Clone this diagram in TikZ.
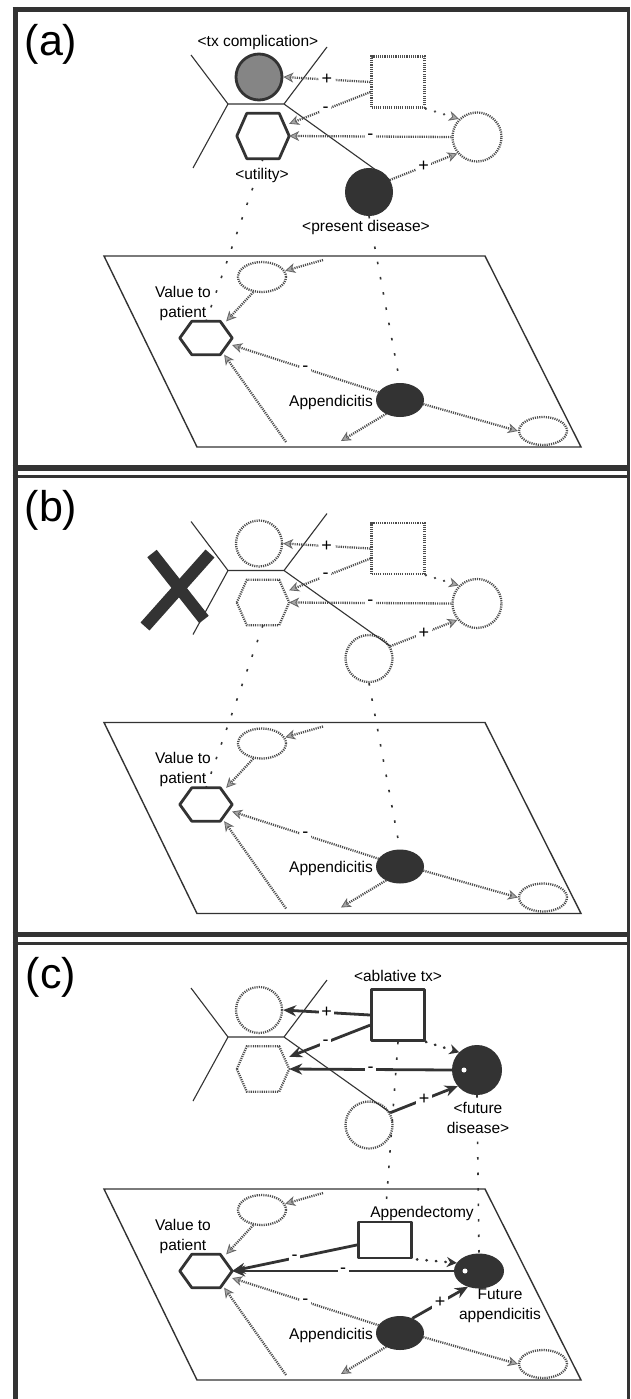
\documentclass[tikz,border=0pt]{standalone}
\usepackage{fontspec}
\setmainfont{Liberation Sans}
\usetikzlibrary{arrows.meta,shapes.geometric,calc}
\definecolor{ink}{gray}{0.2}
\definecolor{dotc}{gray}{0.3}
\tikzset{
  lbl/.style={font=\fontsize{15.5}{20}\selectfont, inner sep=1pt, align=center},
  wlbl/.style={lbl, fill=white},
  plabel/.style={font=\fontsize{43}{43}\selectfont, inner sep=0pt},
  panelframe/.style={draw=ink, line width=5pt},
  hourglass/.style={draw=ink, line width=1.1pt},
  grayline/.style={draw=dotc, line width=2.3pt, dash pattern=on 1.1pt off 1.1pt},
  thickline/.style={draw=ink, line width=2.8pt, line join=round},
  blackfill/.style={fill=ink, draw=ink, line width=1pt},
  hatchfill/.style={fill=black!48, draw=ink, line width=2.8pt},
  gtip/.style={},
  grayedge/.style={draw=dotc, line width=2.3pt, dash pattern=on 1.1pt off 1.1pt, -{Stealth[length=10pt,width=10pt,inset=3pt,color=black!60,fill=black!35,line width=0.8pt]}},
  blackedge/.style={draw=ink, line width=2.8pt, -{Stealth[length=13pt,width=11pt,color=ink,fill=ink]}},
  sparsegray/.style={draw=dotc, line width=2.2pt, dash pattern=on 0.5pt off 9pt, line cap=round, -{Stealth[length=10pt,width=10pt,inset=3pt,color=black!60,fill=black!35,line width=0.8pt]}},
  sparseblack/.style={draw=ink, line width=2.6pt, dash pattern=on 0.5pt off 9pt, line cap=round, -{Stealth[length=10pt,width=10pt,color=ink,fill=ink]}},
  mapline/.style={draw=ink, line width=1.6pt, dash pattern=on 2.5pt off 13pt},
  sign/.style={font=\fontsize{18}{18}\selectfont, fill=white, inner sep=2.5pt},
  planeline/.style={draw=ink, line width=1.4pt},
  crossbar/.style={draw=ink, line width=12pt},
}
% #1 node name, #2 style, #3 inset of top/bottom edges
\newcommand\hexdraw[3]{%
  \draw[#2] (#1.west) -- ([xshift=#3]#1.north west) -- ([xshift=-#3]#1.north east) -- (#1.east) -- ([xshift=-#3]#1.south east) -- ([xshift=#3]#1.south west) -- cycle;}
% #1 prefix, #2 comp, #3 hex, #4 square, #5 right circle, #6 lower circle
\newcommand\toppart[6]{%
  \coordinate (#1-tl) at (191,55);
  \coordinate (#1-lj) at (228,104);
  \coordinate (#1-rj) at (284,104);
  \coordinate (#1-tr) at (327,47);
  \coordinate (#1-bl) at (193,168);
  \node[circle, minimum size=46pt, inner sep=0pt, #2] (#1-comp) at (259,77) {};
  \node[rectangle, minimum width=52pt, minimum height=45pt, inner sep=0pt] (#1-hex) at (263,136) {};
  \hexdraw{#1-hex}{#3}{10pt}
  \node[rectangle, minimum width=53pt, minimum height=51pt, inner sep=0pt, #4] (#1-sq) at (398,82) {};
  \node[circle, minimum size=49pt, inner sep=0pt, #5] (#1-rc) at (477,137) {};
  \node[circle, minimum size=47pt, inner sep=0pt, #6] (#1-low) at (369,192) {};
  \draw[hourglass] (#1-tl) -- (#1-lj) -- (#1-bl) (#1-lj) -- (#1-rj) -- (#1-tr) (#1-rj) -- (#1-low.30);
}
\newcommand\planepart[1]{%
  \coordinate (#1-p1) at (104,256);
  \coordinate (#1-p2) at (485,256);
  \coordinate (#1-p3) at (581,447);
  \coordinate (#1-p4) at (197,447);
  \draw[planeline] (#1-p1) -- (#1-p2) -- (#1-p3) -- (#1-p4) -- cycle;
  \node[ellipse, minimum width=48pt, minimum height=30pt, inner sep=0pt, grayline] (#1-te) at (262,277) {};
  \node[rectangle, minimum width=52pt, minimum height=33pt, inner sep=0pt] (#1-val) at (206,338) {};
  \hexdraw{#1-val}{thickline}{12pt}
  \node[lbl] (#1-lval) at (183,303) {Value to\\patient};
  \node[ellipse, minimum width=47pt, minimum height=33pt, inner sep=0pt, blackfill] (#1-app) at (400,400) {};
  \node[lbl, anchor=east] (#1-lapp) at (374,402) {Appendicitis};
  \node[ellipse, minimum width=48pt, minimum height=28pt, inner sep=0pt, grayline] (#1-br) at (543,431) {};
  \coordinate (#1-in) at (323,260);
  \coordinate (#1-bot) at (286,442);
  \coordinate (#1-out) at (341,441);
  \draw[grayedge] (#1-in) -- (#1-te.15);
  \draw[grayedge] (#1-te.240) -- ([xshift=-6pt]#1-val.north east);
  \draw[grayedge] (#1-app.160) -- node[sign]{-} (#1-val.-15);
  \draw[grayedge] (#1-bot) -- ([xshift=-8pt]#1-val.south east);
  \draw[grayedge] (#1-app.225) -- (#1-out);
  \draw[grayedge] (#1-app.-10) -- (#1-br.west);
}
\begin{document}
\begin{tikzpicture}[x=1pt,y=-1pt]
\useasboundingbox (0,0) rectangle (630,1399);
\fill[white] (0,0) rectangle (630,1399);
% frames
\draw[panelframe] (15,7) -- (15,1399);
\draw[panelframe] (12.5,9.5) -- (630,9.5);
\draw[panelframe, line width=3pt] (628.5,7) -- (628.5,1399);
\draw[panelframe, line width=6pt] (12.5,468) -- (630,468);
\draw[panelframe, line width=3.5pt] (12.5,476.5) -- (630,476.5);
\draw[panelframe, line width=5pt] (12.5,934.5) -- (630,934.5);
\draw[panelframe, line width=3pt] (12.5,943) -- (630,943);

% ---------------- panel (a)
\begin{scope}
\node[plabel] (a-tag) at (51,44) {(a)};
\toppart{a}{hatchfill}{thickline}{grayline}{grayline}{blackfill}
\draw[grayedge] (a-sq.west) -- node[sign]{+} (a-comp.east);
\draw[grayedge] (a-sq.200) -- node[sign, pos=0.55]{-} (a-hex.25);
\draw[grayedge] (a-rc.west) -- node[sign]{-} (a-hex.east);
\draw[grayedge] (a-low.30) -- node[sign]{+} (a-rc.220);
\draw[sparsegray] (a-sq.south east) -- (a-rc.135);
\planepart{a}
\draw[mapline] (a-hex.south) -- (a-val.north);
\draw[mapline] (a-low.south) -- (a-app.north);
\node[wlbl] (a-lcomp) at (258,42) {<tx complication>};
\node[wlbl] (a-lhex) at (262,175) {<utility>};
\node[wlbl] (a-llow) at (366,227) {<present disease>};
\end{scope}

% ---------------- panel (b)
\begin{scope}[shift={(0,466.5)}]
\node[plabel] (b-tag) at (51,44) {(b)};
\toppart{b}{grayline}{grayline}{grayline}{grayline}{grayline}
\draw[grayedge] (b-sq.west) -- node[sign]{+} (b-comp.east);
\draw[grayedge] (b-sq.200) -- node[sign, pos=0.55]{-} (b-hex.25);
\draw[grayedge] (b-rc.west) -- node[sign]{-} (b-hex.east);
\draw[grayedge] (b-low.30) -- node[sign]{+} (b-rc.220);
\draw[sparsegray] (b-sq.south east) -- (b-rc.135);
\planepart{b}
\draw[mapline] (b-hex.south) -- (b-val.north);
\draw[mapline] (b-low.south) -- (b-app.north);
\coordinate (b-x1) at (152,87);
\coordinate (b-x2) at (204,153);
\coordinate (b-x3) at (210,87);
\coordinate (b-x4) at (145,160);
\draw[crossbar] (b-x1) -- (b-x2);
\draw[crossbar] (b-x3) -- (b-x4);
\end{scope}

% ---------------- panel (c)
\begin{scope}[shift={(0,933)}]
\node[plabel] (c-tag) at (51,44) {(c)};
\toppart{c}{grayline}{grayline}{thickline}{blackfill}{grayline}
\node[circle, fill=white, minimum size=5pt, inner sep=0pt] (c-dot1) at (464,137) {};
\draw[blackedge] (c-sq.west) -- node[sign]{+} (c-comp.east);
\draw[blackedge] (c-sq.200) -- node[sign, pos=0.55]{-} (c-hex.25);
\draw[blackedge] (c-rc.west) -- node[sign]{-} (c-hex.east);
\draw[blackedge] (c-low.30) -- node[sign]{+} (c-rc.220);
\draw[sparseblack] (c-sq.south east) -- (c-rc.135);
\planepart{c}
\node[rectangle, minimum width=53pt, minimum height=36pt, inner sep=0pt, thickline] (c-appy) at (385,307) {};
\node[ellipse, minimum width=49pt, minimum height=34pt, inner sep=0pt, blackfill] (c-fapp) at (479,338) {};
\node[circle, fill=white, minimum size=5pt, inner sep=0pt] (c-dot2) at (465,338) {};
\node[lbl] (c-lfapp) at (500,373) {Future\\appendicitis};
\draw[blackedge] (c-appy.190) -- node[sign]{-} (c-val.east);
\draw[blackedge] (c-fapp.west) -- node[sign]{-} (c-val.east);
\draw[sparseblack] ([xshift=4pt]c-appy.south east) -- (c-fapp.160);
\draw[blackedge] (c-app.50) -- node[sign]{+} (c-fapp.235);
\draw[mapline] (c-sq.south) -- (c-appy.north);
\draw[mapline] (c-rc.south) -- (c-fapp.north);
\node[wlbl] (c-lsq) at (398,43) {<ablative tx>};
\node[wlbl] (c-lrc) at (478,185) {<future\\disease>};
\node[wlbl] (c-lappy) at (422,280) {Appendectomy};
\end{scope}
\end{tikzpicture}
\end{document}
